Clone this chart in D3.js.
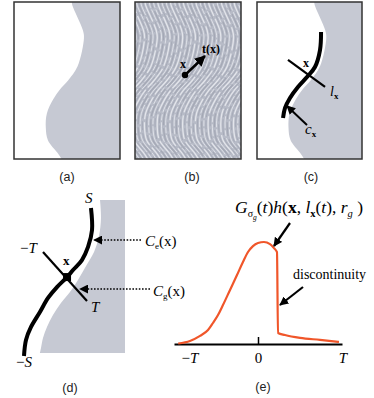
<!DOCTYPE html>
<html>
<head>
<meta charset="utf-8">
<script src="https://cdn.jsdelivr.net/npm/d3@7"></script>
<style>
  body { margin: 0; background: #fff; }
  svg { display: block; }
</style>
</head>
<body>
<svg id="fig" width="374" height="398"></svg>
<script>
// shaded edge of (a) and (c), in box units (u across, v down)
const edgeV = [0, 0.02, 0.18, 0.23, 0.41, 0.50, 0.56, 0.62, 0.71, 0.80, 0.88, 0.96, 1];
const edgeU = [0.545, 0.55, 0.65, 0.66, 0.60, 0.51, 0.43, 0.37, 0.31, 0.30, 0.32, 0.41, 0.45];

// curve c_x in (c), box units
const cCurveU = [0.610, 0.600, 0.552, 0.476, 0.390, 0.314, 0.267, 0.248];
const cCurveV = [0.191, 0.306, 0.414, 0.478, 0.541, 0.611, 0.675, 0.739];

// (d): curve from S to -S and shaded edge, box units
const dCurveU = [0.676, 0.686, 0.648, 0.590, 0.505, 0.448, 0.352, 0.267, 0.190, 0.105, 0.057, 0.038];
const dCurveV = [0.051, 0.192, 0.301, 0.385, 0.449, 0.494, 0.558, 0.628, 0.718, 0.814, 0.897, 1.0];
const dEdgeU = [0.762, 0.771, 0.752, 0.705, 0.629, 0.552, 0.476, 0.390, 0.314, 0.257, 0.219, 0.200, 0.190];
const dEdgeV = [0, 0.115, 0.231, 0.333, 0.423, 0.513, 0.590, 0.660, 0.737, 0.814, 0.885, 0.949, 0.981];

// (e): profile G(t) h(...) over t in [-T, T]
const profT = [-0.95, -0.81, -0.69, -0.595, -0.536, -0.476, -0.417, -0.333, -0.25, -0.179, -0.119, -0.06, 0, 0.071, 0.143, 0.19, 0.226, 0.238, 0.321, 0.5, 0.738, 0.964];
const profV = [0.005, 0.03, 0.08, 0.137, 0.206, 0.284, 0.382, 0.53, 0.676, 0.804, 0.902, 0.96, 0.99, 1, 0.98, 0.94, 0.90, 0.108, 0.088, 0.06, 0.04, 0.02];

const GRAY = '#c6c9d3';
const SERIF = '"Liberation Serif", "DejaVu Serif", serif';
const SANS = '"Liberation Sans", Arial, sans-serif';

const svg = d3.select('#fig');
const defs = svg.append('defs');

function marker(id, size) {
  defs.append('marker')
    .attr('id', id)
    .attr('viewBox', '0 0 10 10')
    .attr('refX', 9).attr('refY', 5)
    .attr('markerWidth', size).attr('markerHeight', size)
    .attr('markerUnits', 'userSpaceOnUse')
    .attr('orient', 'auto')
    .append('path').attr('d', 'M0,0L10,5L0,10Z').attr('fill', '#000');
}
marker('head', 9);
marker('headBig', 11);

function boxScales(b) {
  return [d3.scaleLinear([0, 1], [b.x, b.x + b.w]), d3.scaleLinear([0, 1], [b.y, b.y + b.h])];
}

function zip(us, vs) { return us.map((u, i) => ({ u, v: vs[i] })); }

function rich(x, y, parts, size, anchor) {
  const t = svg.append('text').attr('x', x).attr('y', y)
    .attr('font-family', SERIF).attr('font-size', size)
    .attr('text-anchor', anchor || 'start');
  let shift = 0;
  parts.forEach(p => {
    const s = p.s || 0;
    t.append('tspan')
      .attr('dy', s - shift)
      .attr('font-size', p.fs || size)
      .attr('font-style', p.i ? 'italic' : 'normal')
      .attr('font-weight', p.b ? 'bold' : 'normal')
      .text(p.t);
    shift = s;
  });
  return t;
}

function arrow(x1, y1, x2, y2, opts = {}) {
  svg.append('line')
    .attr('x1', x1).attr('y1', y1).attr('x2', x2).attr('y2', y2)
    .attr('stroke', '#000')
    .attr('stroke-width', opts.w || 2)
    .attr('stroke-dasharray', opts.dash || null)
    .attr('marker-end', `url(#${opts.head || 'head'})`);
}

function label(x, y, s) {
  svg.append('text').attr('x', x).attr('y', y)
    .attr('text-anchor', 'middle')
    .attr('font-family', SANS).attr('font-size', 12.5)
    .attr('fill', '#222')
    .text(s);
}

const edge = zip(edgeU, edgeV);
const shadeArea = (x, y) => d3.area().curve(d3.curveCatmullRom)
  .y(d => y(d.v)).x0(d => x(d.u)).x1(x(1));

function frame(b) {
  svg.append('rect').attr('x', b.x).attr('y', b.y).attr('width', b.w).attr('height', b.h)
    .attr('fill', 'none').attr('stroke', '#333').attr('stroke-width', 1.5);
}

// ---------- (a)
const boxA = { x: 14, y: 2, w: 106, h: 157 };
{
  const [x, y] = boxScales(boxA);
  svg.append('path').datum(edge).attr('d', shadeArea(x, y)).attr('fill', GRAY);
  frame(boxA);
  label(67, 181, '(a)');
}

// ---------- (b) flow texture
const boxB = { x: 135, y: 2, w: 106, h: 157 };
{
  const [x, y] = boxScales(boxB);
  defs.append('clipPath').attr('id', 'clipB').append('rect')
    .attr('x', boxB.x).attr('y', boxB.y).attr('width', boxB.w).attr('height', boxB.h);
  const g = svg.append('g').attr('clip-path', 'url(#clipB)');
  g.append('rect').attr('x', boxB.x).attr('y', boxB.y).attr('width', boxB.w).attr('height', boxB.h)
    .attr('fill', '#b7bbc7');
  const dashes = ['14,3', '20,2,6,2', '9,3', '24,3', '10,2,16,3', '6,2,12,2'];
  const shifts = d3.range(-0.75, 1.0, 0.02);
  shifts.forEach((s, i) => {
    const line = d3.line().curve(d3.curveCatmullRom)
      .x(d => x(d.u + s)).y(d => y(d.v));
    g.append('path').datum(edge).attr('d', line)
      .attr('fill', 'none')
      .attr('stroke', i % 2 ? '#f2f3f7' : '#8d92a0')
      .attr('stroke-opacity', i % 2 ? 0.75 : 0.45)
      .attr('stroke-width', i % 3 === 0 ? 1.3 : 0.9)
      .attr('stroke-dasharray', dashes[i % dashes.length])
      .attr('stroke-dashoffset', (i * 7) % 17);
  });
  frame(boxB);
  const p0 = [x(0.472), y(0.465)], p1 = [x(0.660), y(0.344)];
  arrow(p0[0], p0[1], p1[0], p1[1], { w: 2.5, head: 'headBig' });
  svg.append('circle').attr('cx', p0[0]).attr('cy', p0[1]).attr('r', 3.2).attr('fill', '#000');
  rich(180, 68, [{ t: 'x', b: 1 }], 12);
  rich(202, 53, [{ t: 't(x)', b: 1 }], 12);
  label(192, 181, '(b)');
}

// ---------- (c)
const boxC = { x: 257, y: 2, w: 105, h: 157 };
{
  const [x, y] = boxScales(boxC);
  svg.append('path').datum(edge).attr('d', shadeArea(x, y)).attr('fill', GRAY);
  frame(boxC);
  svg.append('path').datum(zip(cCurveU, cCurveV))
    .attr('d', d3.line().curve(d3.curveCatmullRom).x(d => x(d.u)).y(d => y(d.v)))
    .attr('fill', 'none').attr('stroke', '#000').attr('stroke-width', 4);
  svg.append('line')
    .attr('x1', x(0.295)).attr('y1', y(0.369)).attr('x2', x(0.648)).attr('y2', y(0.541))
    .attr('stroke', '#000').attr('stroke-width', 2.2);
  arrow(x(0.476), y(0.783), x(0.285), y(0.662), { w: 2 });
  rich(303, 67, [{ t: 'x', b: 1 }], 12);
  rich(330, 96, [{ t: 'l', i: 1 }, { t: 'x', b: 1, fs: 9, s: 3 }], 14);
  rich(305, 134, [{ t: 'c', i: 1 }, { t: 'x', b: 1, fs: 9, s: 3 }], 15);
  label(311, 181, '(c)');
}

// ---------- (d)
{
  const x = d3.scaleLinear([0, 1], [20, 125]);
  const y = d3.scaleLinear([0, 1], [200, 356]);
  svg.append('path').datum(zip(dEdgeU, dEdgeV))
    .attr('d', shadeArea(x, y)).attr('fill', GRAY);
  svg.append('path').datum(zip(dCurveU, dCurveV))
    .attr('d', d3.line().curve(d3.curveCatmullRom).x(d => x(d.u)).y(d => y(d.v)))
    .attr('fill', 'none').attr('stroke', '#000').attr('stroke-width', 4);
  svg.append('line')
    .attr('x1', x(0.219)).attr('y1', y(0.333)).attr('x2', x(0.638)).attr('y2', y(0.647))
    .attr('stroke', '#000').attr('stroke-width', 2.2);
  const cx = x(dCurveU[5]), cy = y(dCurveV[5]);
  svg.append('rect').attr('x', cx - 4).attr('y', cy - 4).attr('width', 8).attr('height', 8).attr('fill', '#000');
  arrow(141, 240, 94, 240, { w: 1.6, dash: '1.6,1.6' });
  arrow(150, 289, 80, 289, { w: 1.6, dash: '1.6,1.6' });
  rich(85, 203, [{ t: 'S', i: 1 }], 15);
  rich(20, 253, [{ t: '\u2212' }, { t: 'T', i: 1 }], 15);
  rich(63, 265, [{ t: 'x', b: 1 }], 13);
  rich(91, 312, [{ t: 'T', i: 1 }], 15);
  rich(16, 367, [{ t: '\u2212' }, { t: 'S', i: 1 }], 15);
  rich(145, 246, [{ t: 'C', i: 1 }, { t: 'e', fs: 9, s: 3 }, { t: '(x)' }], 15);
  rich(153, 296, [{ t: 'C', i: 1 }, { t: 'g', fs: 9, s: 3 }, { t: '(x)' }], 15);
  label(70, 392, '(d)');
}

// ---------- (e)
{
  const tX = d3.scaleLinear([-1, 1], [174, 342]);
  const vY = d3.scaleLinear([0, 1], [344, 242]);
  const ax = svg.append('g').attr('transform', `translate(0,${vY(0)})`)
    .call(d3.axisBottom(tX).tickValues([0]).tickSize(-7).tickSizeOuter(0).tickPadding(8).tickFormat(() => '0'));
  ax.attr('font-family', SERIF).attr('font-size', 15);
  ax.select('.domain').attr('stroke-width', 2);
  ax.selectAll('.tick line').attr('stroke-width', 1.5);
  ax.selectAll('.tick text').attr('fill', '#000');
  rich(tX(-1) + 16, 363, [{ t: '\u2212' }, { t: 'T', i: 1 }], 15, 'middle');
  rich(tX(1) + 1, 363, [{ t: 'T', i: 1 }], 15, 'middle');

  svg.append('path').datum(profT.map((t, i) => [t, profV[i]]))
    .attr('d', d3.line().curve(d3.curveMonotoneX).x(d => tX(d[0])).y(d => vY(d[1])))
    .attr('fill', 'none').attr('stroke', '#f0562a').attr('stroke-width', 2.2);

  rich(235, 213, [
    { t: 'G', i: 1 }, { t: '\u03c3', fs: 10, s: 4 }, { t: 'g', i: 1, fs: 7.5, s: 7 },
    { t: '(' }, { t: 't', i: 1 }, { t: ')' }, { t: 'h', i: 1 }, { t: '(' }, { t: 'x', b: 1 }, { t: ', ' },
    { t: 'l', i: 1 }, { t: 'x', b: 1, fs: 10.5, s: 4 }, { t: '(' }, { t: 't', i: 1 }, { t: '), ' },
    { t: 'r', i: 1 }, { t: 'g', i: 1, fs: 10.5, s: 4 }, { t: ' )' }
  ], 17.5);
  arrow(290, 223, 274, 246, { w: 2.2 });
  svg.append('text').attr('x', 293).attr('y', 279)
    .attr('font-family', SERIF).attr('font-size', 14).text('discontinuity');
  arrow(303, 287, 280, 305, { w: 2.2 });
  label(263, 391, '(e)');
}
</script>
</body>
</html>
